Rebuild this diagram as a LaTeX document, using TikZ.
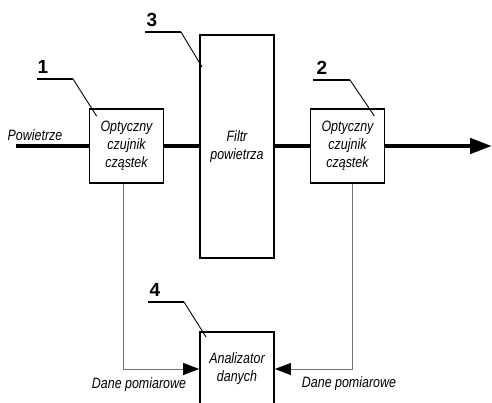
\documentclass[tikz,border=0pt]{standalone}
\usepackage{fontspec}
\setmainfont{Liberation Sans}
\newfontfamily\narrowfont[FakeStretch=0.83]{Liberation Sans}
\usetikzlibrary{arrows.meta,calc}
\begin{document}
\begin{tikzpicture}[x=1pt,y=-1pt,
  box/.style={draw,line width=1.8pt,minimum width=74pt,minimum height=74pt,inner sep=0pt,align=center,
    font=\narrowfont\fontsize{15}{18}\selectfont\itshape},
  flow/.style={line width=4.5pt},
  datal/.style={draw=black!55,line width=1pt},
  lbl/.style={font=\narrowfont\fontsize{15}{18}\selectfont\itshape,inner sep=0pt},
  num/.style={font=\fontsize{19}{22}\selectfont\bfseries,inner sep=0pt},
  uline/.style={line width=2pt},
  leader/.style={line width=0.9pt}]
\useasboundingbox (0,0) rectangle (492,403);
% boxes
\node[box] (b1) at (126.5,146) {Optyczny\\czujnik\\cząstek};
\node[box,minimum height=223pt] (filt) at (237,146.5) {Filtr\\powietrza};
\node[box] (b2) at (347.5,146) {Optyczny\\czujnik\\cząstek};
\node[box] (b4) at (237,369) {Analizator\\danych};
% main flow
\coordinate (in) at (16,146);
\coordinate (out) at (492,146);
\draw[flow] (in) -- (b1.west);
\draw[flow] (b1.east) -- (b1.east -| filt.west);
\draw[flow] (b2.west -| filt.east) -- (b2.west);
\draw[flow,-{Triangle[length=22pt,width=15pt]}] (b2.east) -- (out);
\node[lbl] (pow) at (35,135) {Powietrze};
% data lines
\draw[datal,-{Triangle[length=16pt,width=12pt,color=black]}] ([xshift=-3.5pt]b1.south) |- (b4.west);
\draw[datal,-{Triangle[length=16pt,width=12pt,color=black]}] ([xshift=4.5pt]b2.south) |- (b4.east);
\node[lbl] (d1) at (139,385) {Dane pomiarowe};
\node[lbl] (d2) at (349,384) {Dane pomiarowe};
% labels 1..4
\node[num] (n1) at (43,67) {1};
\coordinate (u1a) at (37,79); \coordinate (u1b) at (73,79);
\draw[uline] (u1a) -- (u1b);
\draw[leader] (u1b) -- ([xshift=8pt,yshift=-8pt]b1.north west);
\node[num] (n3) at (152,20) {3};
\coordinate (u3a) at (145,32); \coordinate (u3b) at (181,32);
\draw[uline] (u3a) -- (u3b);
\draw[leader] (u3b) -- ([xshift=3pt,yshift=-33pt]filt.north west);
\node[num] (n2) at (322,68) {2};
\coordinate (u2a) at (313,80); \coordinate (u2b) at (350,80);
\draw[uline] (u2a) -- (u2b);
\draw[leader] (u2b) -- ([xshift=-11pt,yshift=-8pt]b2.north east);
\node[num] (n4) at (155,290) {4};
\coordinate (u4a) at (148,302); \coordinate (u4b) at (184,302);
\draw[uline] (u4a) -- (u4b);
\draw[leader] (u4b) -- ([xshift=7pt,yshift=-6pt]b4.north west);
\end{tikzpicture}
\end{document}
